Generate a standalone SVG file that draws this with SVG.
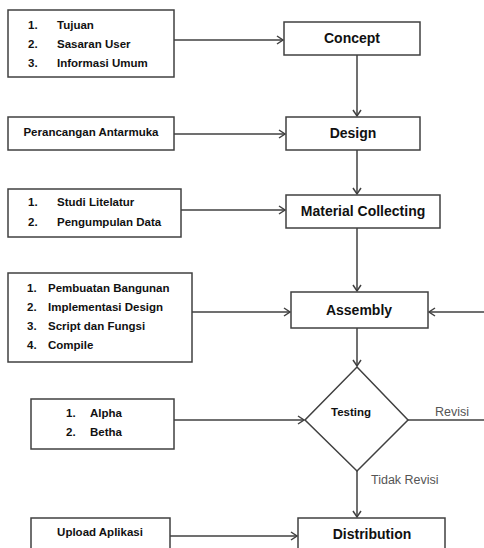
<svg xmlns="http://www.w3.org/2000/svg" width="484" height="548" viewBox="0 0 484 548">
<style>
.box{fill:#fff;stroke:#404040;stroke-width:1.5}
.c{fill:none;stroke:#404040;stroke-width:1.5}
.s{font-family:"Liberation Sans",Arial,sans-serif;font-weight:bold;font-size:11.5px;fill:#111}
.t{font-family:"Liberation Sans",Arial,sans-serif;font-weight:bold;font-size:14px;fill:#111;text-anchor:middle}
.l{font-family:"Liberation Sans",Arial,sans-serif;font-size:12.5px;fill:#555}
</style>
<defs>
<marker id="a" markerUnits="userSpaceOnUse" markerWidth="10" markerHeight="12" refX="8" refY="5" orient="auto">
<path d="M2,1 L8,5 L2,9" fill="none" stroke="#404040" stroke-width="1.5"/>
</marker>
</defs>
<rect width="484" height="548" fill="#fff"/>
<g id="connectors">
<line class="c" x1="174" y1="40" x2="283" y2="40" marker-end="url(#a)"/>
<line class="c" x1="174" y1="134" x2="285" y2="134" marker-end="url(#a)"/>
<line class="c" x1="181" y1="210" x2="285" y2="210" marker-end="url(#a)"/>
<line class="c" x1="192" y1="312" x2="290" y2="312" marker-end="url(#a)"/>
<line class="c" x1="484" y1="312" x2="429" y2="312" marker-end="url(#a)"/>
<line class="c" x1="174" y1="420" x2="304" y2="420" marker-end="url(#a)"/>
<line class="c" x1="408" y1="420" x2="484" y2="420"/>
<line class="c" x1="170" y1="536" x2="297" y2="536" marker-end="url(#a)"/>
<line class="c" x1="357" y1="55" x2="357" y2="116" marker-end="url(#a)"/>
<line class="c" x1="357" y1="150" x2="357" y2="194" marker-end="url(#a)"/>
<line class="c" x1="357" y1="228" x2="357" y2="291" marker-end="url(#a)"/>
<line class="c" x1="357" y1="328" x2="357" y2="366" marker-end="url(#a)"/>
<line class="c" x1="357" y1="471" x2="357" y2="517" marker-end="url(#a)"/>
<text class="l" x="435" y="416">Revisi</text>
<text class="l" x="371" y="484">Tidak Revisi</text>
</g>
<g id="input-concept">
<rect class="box" x="8" y="10" width="166" height="67"/>
<text class="s" x="28" y="29">1.</text><text class="s" x="57" y="29">Tujuan</text>
<text class="s" x="28" y="48">2.</text><text class="s" x="57" y="48">Sasaran User</text>
<text class="s" x="28" y="67">3.</text><text class="s" x="57" y="67">Informasi Umum</text>
</g>
<g id="concept">
<rect class="box" x="284" y="22" width="136" height="33"/>
<text class="t" x="352" y="43">Concept</text>
</g>
<g id="input-design">
<rect class="box" x="8" y="117" width="166" height="33"/>
<text class="s" x="91" y="136" text-anchor="middle">Perancangan Antarmuka</text>
</g>
<g id="design">
<rect class="box" x="286" y="117" width="134" height="33"/>
<text class="t" x="353" y="138">Design</text>
</g>
<g id="input-material">
<rect class="box" x="8" y="189" width="173" height="48"/>
<text class="s" x="28" y="206">1.</text><text class="s" x="57" y="206">Studi Litelatur</text>
<text class="s" x="28" y="226">2.</text><text class="s" x="57" y="226">Pengumpulan Data</text>
</g>
<g id="material">
<rect class="box" x="286" y="195" width="154" height="33"/>
<text class="t" x="363" y="216">Material Collecting</text>
</g>
<g id="input-assembly">
<rect class="box" x="8" y="273" width="184" height="89"/>
<text class="s" x="27" y="292">1.</text><text class="s" x="48" y="292">Pembuatan Bangunan</text>
<text class="s" x="27" y="311">2.</text><text class="s" x="48" y="311">Implementasi Design</text>
<text class="s" x="27" y="330">3.</text><text class="s" x="48" y="330">Script dan Fungsi</text>
<text class="s" x="27" y="349">4.</text><text class="s" x="48" y="349">Compile</text>
</g>
<g id="assembly">
<rect class="box" x="291" y="292" width="137" height="36"/>
<text class="t" x="359" y="315">Assembly</text>
</g>
<g id="input-testing">
<rect class="box" x="31" y="399" width="143" height="50"/>
<text class="s" x="66" y="417">1.</text><text class="s" x="90" y="417">Alpha</text>
<text class="s" x="66" y="436">2.</text><text class="s" x="90" y="436">Betha</text>
</g>
<g id="testing">
<polygon class="box" points="357,367 408,420 357,471 305,420"/>
<text class="s" x="351" y="416" text-anchor="middle">Testing</text>
</g>
<g id="input-distribution">
<rect class="box" x="31" y="518" width="139" height="45"/>
<text class="s" x="100" y="536" text-anchor="middle">Upload Aplikasi</text>
</g>
<g id="distribution">
<rect class="box" x="298" y="518" width="147" height="45"/>
<text class="t" x="372" y="539">Distribution</text>
</g>
</svg>
